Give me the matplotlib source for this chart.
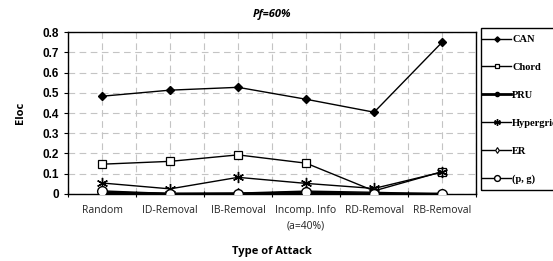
import numpy as np
import matplotlib.pyplot as plt
from matplotlib.patches import Rectangle
from matplotlib.ticker import MultipleLocator, FixedLocator, FuncFormatter

attacks = ["Random", "ID-Removal", "IB-Removal", "Incomp. Info\n(a=40%)", "RD-Removal", "RB-Removal"]
can = [0.483, 0.513, 0.527, 0.468, 0.404, 0.750]
chord = [0.147, 0.161, 0.193, 0.152, 0.015, 0.110]
pru = [0.005, 0.0, 0.0, 0.005, 0.0, 0.0]
hypergrid = [0.054, 0.025, 0.082, 0.052, 0.027, 0.108]
er = [0.010, 0.001, 0.004, 0.014, 0.008, 0.0]
pg = [0.015, 0.002, 0.002, 0.010, 0.002, 0.0]

fig = plt.figure(figsize=(5.53, 2.61), dpi=100)
ax = fig.add_axes([0.123, 0.257, 0.738, 0.620])
x = np.arange(len(attacks))

ax.plot(x, can, color='black', lw=1, marker='D', ms=4.5, mfc='black', label='CAN', zorder=5)
ax.plot(x, chord, color='black', lw=1, marker='s', ms=6, mfc='white', mew=0.9, label='Chord', zorder=5)
ax.plot(x, pru, color='black', lw=2, marker='o', ms=5, mfc='black', label='PRU', zorder=4)
ax.plot(x, hypergrid, color='black', lw=1, marker=(6, 2, 0), ms=8, mew=1, label='Hypergrid', zorder=5)
ax.plot(x, er, color='black', lw=1, marker='d', ms=5, mfc='white', mew=0.8, label='ER', zorder=5)
ax.plot(x, pg, color='black', lw=1, marker='o', ms=7, mfc='white', mew=1, label='(p, g)', zorder=6)

ax.set_xlim(-0.5, 5.5)
ax.set_ylim(0, 0.8)
ax.set_xticks(x)
ax.set_xticklabels(attacks, fontsize=7.5, family='Open Sans', color='#222222', linespacing=1.6)
ax.xaxis.set_minor_locator(FixedLocator(np.arange(-0.5, 6, 1.0)))
ax.tick_params(axis='x', which='major', length=0, pad=8)
ax.tick_params(axis='x', which='minor', length=4, direction='inout', width=0.8)
ax.yaxis.set_major_locator(MultipleLocator(0.1))
ax.yaxis.set_major_formatter(FuncFormatter(lambda v, p: "0" if abs(v) < 1e-9 else f"{v:.1f}"))
ax.tick_params(axis='y', length=3, width=0.8, labelsize=8.5)
for t in ax.get_yticklabels():
    t.set_fontweight('bold')
    t.set_family('Liberation Sans')

ax.grid(True, which='both', axis='x', color='#c4c4c4', ls=(0, (6, 4)), lw=0.8)
ax.grid(True, which='major', axis='y', color='#c4c4c4', ls=(0, (6, 4)), lw=0.8)
for s in ax.spines.values():
    s.set_color('black')
    s.set_linewidth(1)

ax.set_title("Pf=60%", fontsize=8, fontweight='bold', style='italic', family='Open Sans', pad=11)
ax.set_xlabel("Type of Attack", fontsize=8, fontweight='bold', family='Open Sans', labelpad=10)
ax.set_ylabel("Eloc", fontsize=8, fontweight='bold', family='Open Sans', labelpad=12)

# legend box drawn separately, runs off the right edge like the original
W, H = 553, 261
fig.patches.append(Rectangle((481 / W, 1 - 190 / H), 80 / W, 162 / H, transform=fig.transFigure,
                             fill=False, edgecolor='black', lw=1, clip_on=False))
leg = fig.legend(loc='upper left', bbox_to_anchor=(482 / W, 1 - 35 / H), frameon=False,
                 handlelength=2.8, handletextpad=0.1, labelspacing=1.78, markerscale=0.6,
                 borderpad=0, borderaxespad=0,
                 prop={'family': 'Liberation Serif', 'weight': 'bold', 'size': 7.5})

fig.savefig("out.png", dpi=100)
